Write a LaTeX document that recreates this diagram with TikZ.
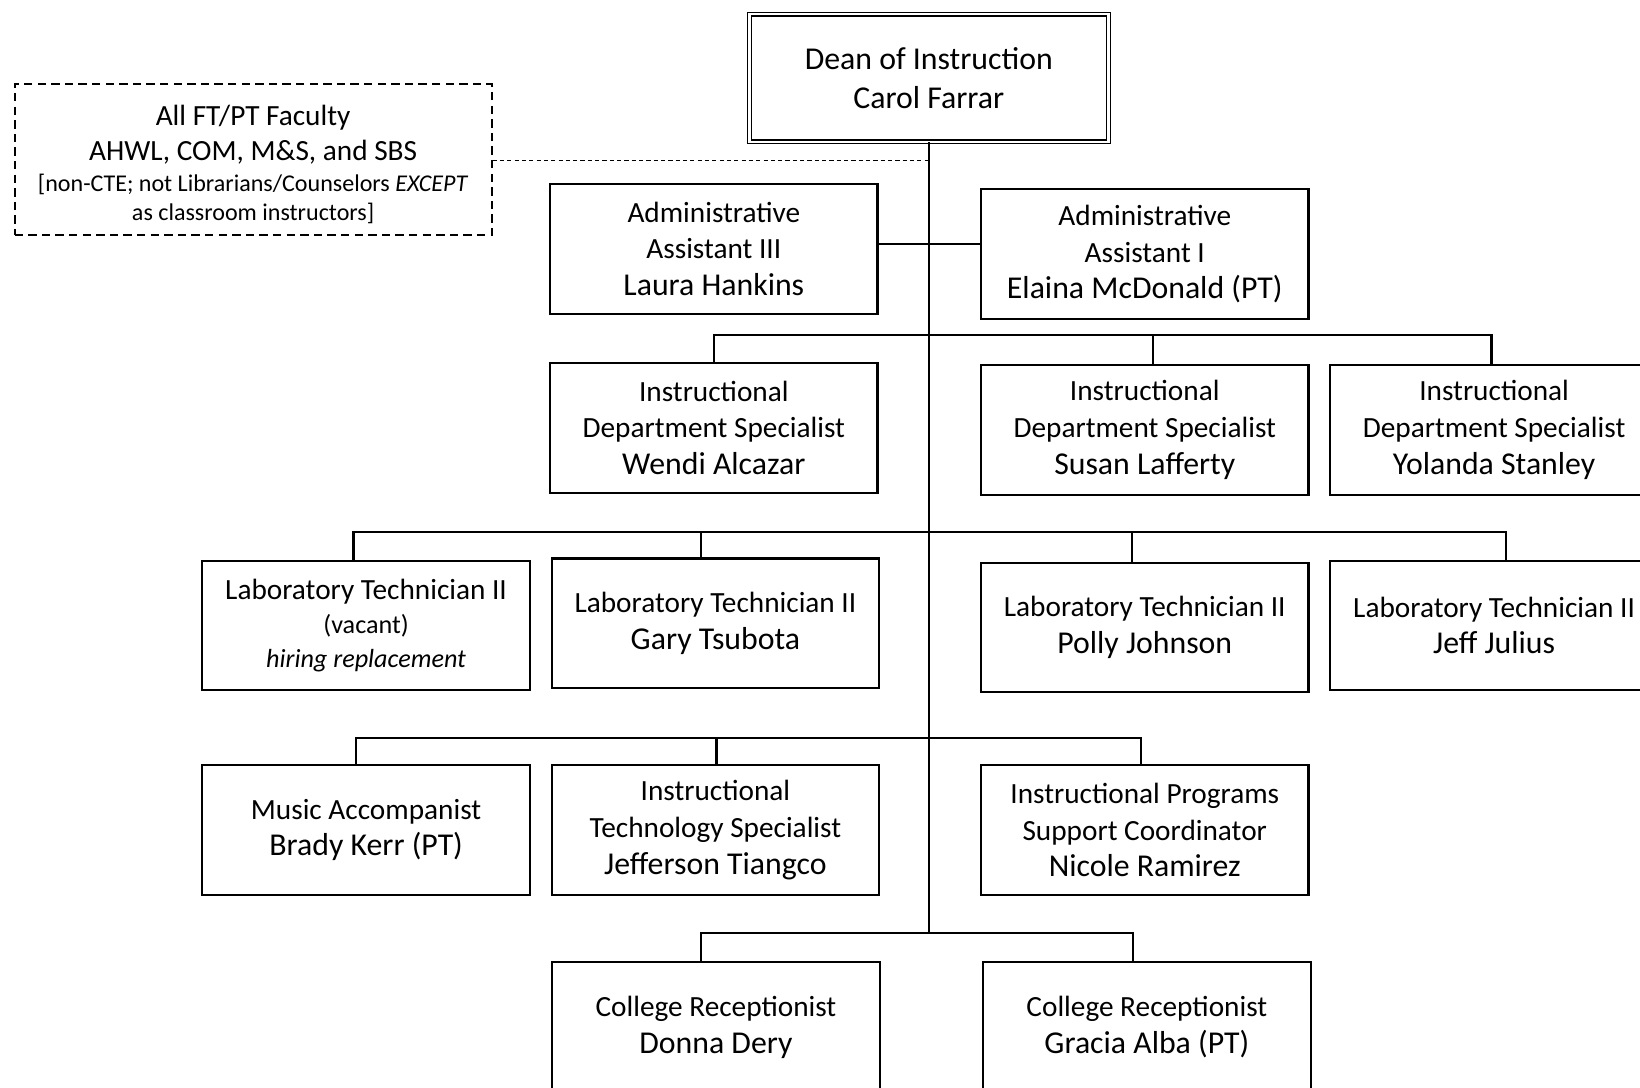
\documentclass[tikz,border=0pt]{standalone}
\usepackage{fontspec}
\setmainfont{Carlito}
\newcommand\pname[1]{{\fontsize{15.2}{17.5}\selectfont #1}}
\newcommand\smalltxt[1]{{\fontsize{11.5}{14}\selectfont #1}}
\begin{document}
\begin{tikzpicture}[x=0.5pt,y=-0.5pt,
  box/.style={draw, line width=1pt, minimum width=156.5pt, minimum height=62pt,
    inner sep=0pt, align=center, font=\fontsize{14}{17.6}\selectfont,
    execute at begin node={\rule{0pt}{14.4pt}}},
  conn/.style={line width=1pt},
  dashconn/.style={line width=0.5pt, dash pattern=on 2pt off 1.5pt},
]
\useasboundingbox (0,0) rectangle (1568,1040);
\clip (0,0) rectangle (1568,1040);

% top
\node[draw, double, double distance=1.2pt, line width=0.6pt,
  minimum width=171.6pt, minimum height=61.1pt, inner sep=0pt, align=center,
  font=\fontsize{15.2}{18.5}\selectfont,
  execute at begin node={\rule{0pt}{14.2pt}}] (dean) at (888,74.5)
  {Dean of Instruction\\Carol Farrar};

\node[draw, dash pattern=on 4pt off 2.5pt, line width=1pt,
  minimum width=228pt, minimum height=72.5pt, inner sep=0pt, align=center,
  font=\fontsize{14}{16.8}\selectfont] (fac) at (242,152.5)
  {\rule{0pt}{14.5pt}All FT/PT Faculty\\AHWL, COM, M\&S, and SBS\\[-1.8pt]
   \smalltxt{[non-CTE; not Librarians/Counselors \textit{EXCEPT}}\\[-2.8pt]
   \smalltxt{as classroom instructors]}};

% admin row
\node[box] (aa3) at (682.5,238) {Administrative\\Assistant III\\\pname{Laura Hankins}};
\node[box] (aa1) at (1094.5,243) {Administrative\\Assistant I\\\pname{Elaina McDonald (PT)}};

% IDS row
\node[box] (ids1) at (682.5,409) {Instructional\\Department Specialist\\\pname{Wendi Alcazar}};
\node[box] (ids2) at (1094.5,411) {Instructional\\Department Specialist\\\pname{Susan Lafferty}};
\node[box] (ids3) at (1428.5,411) {Instructional\\Department Specialist\\\pname{Yolanda Stanley}};

% Lab tech row
\node[box, execute at begin node={\rule{0pt}{15.6pt}}] (lt1) at (350,598) {Laboratory Technician II\\[-1.5pt]
  {\fontsize{12.5}{14}\selectfont (vacant)}\\[-1.5pt]
  {\fontsize{12.5}{14}\selectfont\itshape hiring replacement}};
\node[box] (lt2) at (684,596) {Laboratory Technician II\\\pname{Gary Tsubota}};
\node[box] (lt3) at (1094.5,600) {Laboratory Technician II\\\pname{Polly Johnson}};
\node[box] (lt4) at (1428.5,598) {Laboratory Technician II\\\pname{Jeff Julius}};

% row 4
\node[box] (ma) at (350,793.5) {Music Accompanist\\\pname{Brady Kerr (PT)}};
\node[box] (its) at (684,793.5) {Instructional\\Technology Specialist\\\pname{Jefferson Tiangco}};
\node[box] (ipsc) at (1094.5,793.5) {Instructional Programs\\Support Coordinator\\\pname{Nicole Ramirez}};

% row 5
\node[box] (cr1) at (684.5,982) {College Receptionist\\\pname{Donna Dery}};
\node[box] (cr2) at (1096.5,982) {College Receptionist\\\pname{Gracia Alba (PT)}};

% trunk
\coordinate (t5) at (888,892);
\draw[conn] (dean.south) -- (t5);

% dashed link to faculty
\coordinate (j0) at (888,153);
\draw[dashconn] (fac.east |- j0) -- (j0);

% admin connector
\coordinate (a1) at (888,233);
\draw[conn] (aa3.east |- a1) -- (aa1.west |- a1);

% row 2 bus
\coordinate (x21) at (683,320);
\coordinate (x22) at (1102,320);
\coordinate (x23) at (1426,320);
\draw[conn] (x21 |- ids1.north) -- (x21) -- (x23) -- (x23 |- ids3.north);
\draw[conn] (x22) -- (x22 |- ids2.north);

% row 3 bus
\coordinate (x31) at (338,509);
\coordinate (x32) at (670,509);
\coordinate (x33) at (1082,509);
\coordinate (x34) at (1440,509);
\draw[conn] (x31 |- lt1.north) -- (x31) -- (x34) -- (x34 |- lt4.north);
\draw[conn] (x32) -- (x32 |- lt2.north);
\draw[conn] (x33) -- (x33 |- lt3.north);

% row 4 bus
\coordinate (x41) at (340,706);
\coordinate (x42) at (685,706);
\coordinate (x43) at (1091,706);
\draw[conn] (x41 |- ma.north) -- (x41) -- (x43) -- (x43 |- ipsc.north);
\draw[conn] (x42) -- (x42 |- its.north);

% row 5 bus
\coordinate (x51) at (670,892);
\coordinate (x52) at (1083,892);
\draw[conn] (x51 |- cr1.north) -- (x51) -- (x52) -- (x52 |- cr2.north);
\end{tikzpicture}
\end{document}
